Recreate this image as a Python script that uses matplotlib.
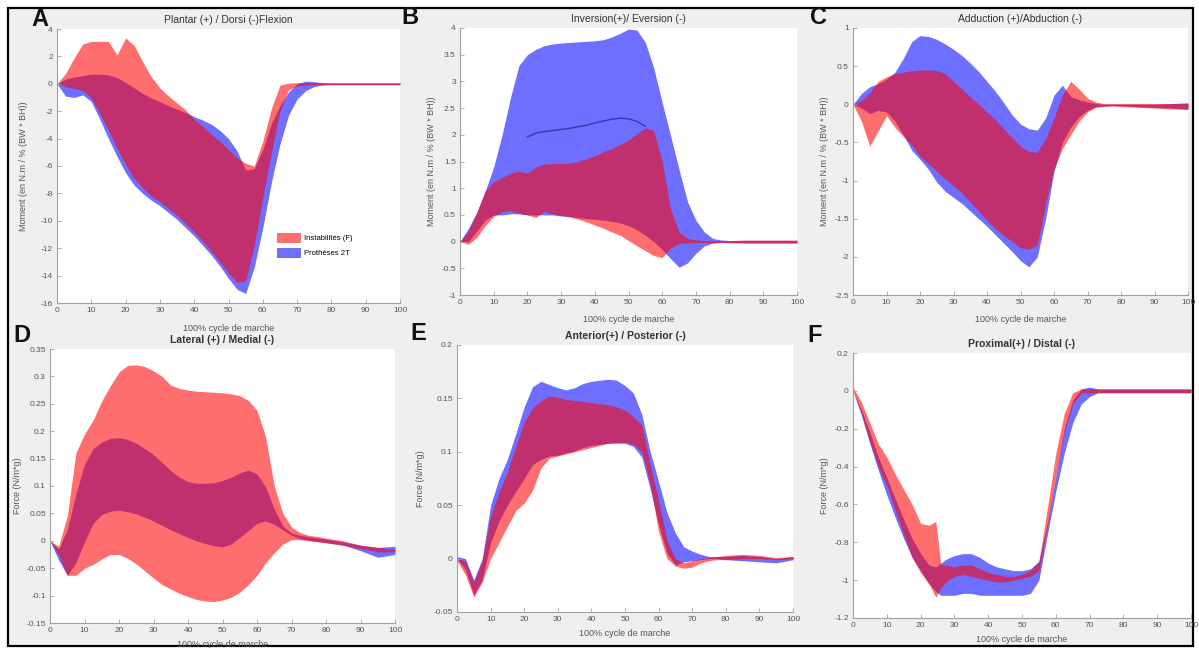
import numpy as np
import matplotlib
matplotlib.use("Agg")
import matplotlib.pyplot as plt
from matplotlib.patches import Rectangle
from matplotlib.ticker import FuncFormatter

plt.rcParams['font.family'] = ['Liberation Sans', 'DejaVu Sans']

# gait cycle (%) sample points
X = [0, 2.5, 5, 7.5, 10, 12.5, 15, 17.5, 20, 22.5, 25, 27.5, 30, 32.5, 35, 37.5, 40,
     42.5, 45, 47.5, 50, 52.5, 55, 57.5, 60, 62.5, 65, 67.5, 70, 72.5, 75, 77.5, 80,
     85, 90, 95, 100]
X_F = [0, 2.5, 5, 7.5, 10, 12.5, 15, 17.5, 20, 22.5, 24.5, 26, 27.5, 30, 32.5, 35,
       37.5, 40, 42.5, 45, 47.5, 50, 52.5, 55, 57.5, 60, 62.5, 65, 67.5, 70, 72.5, 75,
       77.5, 80, 85, 90, 95, 100]

group_labels = ["Instabilités (F)", "Prothèses 2T"]

# A - plantar / dorsi flexion moment
a_red_hi = [0, 0.75, 1.9, 2.9, 3.1, 3.1, 3.1, 2.1, 3.35, 2.8, 1.6, 0.5, -0.3, -0.9, -1.4,
            -1.9, -2.6, -3.1, -3.7, -4.2, -4.8, -5.4, -5.8, -6.0, -4.2, -1.8, -0.1, 0.05,
            0.08, 0.08, 0.08, 0.08, 0.08, 0.08, 0.08, 0.08, 0.08]
a_red_lo = [0, -0.2, -0.35, -0.5, -1.0, -2.2, -3.4, -4.7, -5.9, -6.9, -7.6, -8.2, -8.6,
            -9.1, -9.6, -10.2, -10.8, -11.5, -12.2, -13.0, -13.8, -14.5, -14.4, -11.8,
            -8.3, -5.0, -2.0, -0.45, -0.15, -0.1, -0.08, -0.08, -0.08, -0.08, -0.08,
            -0.08, -0.08]
a_blue_hi = [0, 0.35, 0.5, 0.6, 0.7, 0.7, 0.65, 0.45, 0.1, -0.3, -0.7, -1.05, -1.3, -1.6,
             -1.85, -2.1, -2.4, -2.65, -2.95, -3.4, -4.0, -4.9, -6.3, -6.2, -4.8, -2.9,
             -1.6, -0.6, 0.0, 0.2, 0.15, 0.08, 0.05, 0.05, 0.05, 0.05, 0.05]
a_blue_lo = [0, -0.9, -1.0, -0.8, -1.3, -2.6, -4.0, -5.3, -6.5, -7.4, -8.0, -8.5, -8.9,
             -9.4, -9.9, -10.5, -11.1, -11.8, -12.5, -13.3, -14.2, -15.0, -15.3, -13.4,
             -10.5, -7.2, -4.4, -2.3, -1.1, -0.5, -0.2, -0.08, -0.05, -0.05, -0.05,
             -0.05, -0.05]

# B - inversion / eversion moment
b_red_hi = [0, 0.2, 0.55, 0.95, 1.12, 1.2, 1.28, 1.32, 1.28, 1.4, 1.45, 1.46, 1.46, 1.47,
            1.5, 1.55, 1.61, 1.68, 1.74, 1.82, 1.9, 2.02, 2.13, 2.08, 1.5, 0.6, 0.18,
            0.06, 0.03, 0.02, 0.02, 0.02, 0.02, 0.03, 0.03, 0.03, 0.03]
b_red_lo = [0, -0.05, 0.08, 0.3, 0.47, 0.56, 0.58, 0.53, 0.5, 0.45, 0.57, 0.52, 0.49,
            0.46, 0.42, 0.37, 0.31, 0.25, 0.18, 0.12, 0.02, -0.08, -0.17, -0.26, -0.3,
            -0.12, -0.03, -0.02, -0.02, -0.02, -0.02, -0.02, -0.02, -0.03, -0.03, -0.03,
            -0.03]
b_blue_hi = [0, 0.25, 0.55, 0.95, 1.4, 2.0, 2.7, 3.3, 3.5, 3.6, 3.67, 3.7, 3.72, 3.73,
             3.74, 3.75, 3.76, 3.78, 3.83, 3.9, 3.98, 3.96, 3.73, 3.25, 2.6, 1.98, 1.35,
             0.75, 0.4, 0.18, 0.06, 0.03, 0.02, 0.02, 0.02, 0.02, 0.02]
b_blue_lo = [0, 0.0, 0.2, 0.4, 0.5, 0.5, 0.52, 0.52, 0.5, 0.5, 0.5, 0.5, 0.48, 0.47,
             0.45, 0.43, 0.42, 0.4, 0.38, 0.35, 0.3, 0.22, 0.12, 0.0, -0.15, -0.32, -0.48,
             -0.4, -0.22, -0.08, -0.03, -0.01, -0.02, -0.02, -0.02, -0.02, -0.02]
b_blue_mean_x = [20, 22.5, 25, 27.5, 30, 32.5, 35, 37.5, 40, 42.5, 45, 47.5, 50, 52.5, 55]
b_blue_mean = [1.96, 2.03, 2.06, 2.08, 2.1, 2.12, 2.15, 2.18, 2.22, 2.26, 2.29, 2.31,
               2.3, 2.25, 2.16]

# C - adduction / abduction moment
c_red_hi = [0, 0.05, 0.15, 0.3, 0.36, 0.4, 0.42, 0.44, 0.45, 0.45, 0.44, 0.4, 0.3, 0.2,
            0.1, 0.0, -0.1, -0.2, -0.32, -0.44, -0.55, -0.62, -0.63, -0.45, -0.18, 0.12,
            0.3, 0.2, 0.08, 0.03, 0.01, 0.01, 0.01, 0.01, 0.01, 0.01, 0.01]
c_red_lo = [0, -0.22, -0.55, -0.35, -0.15, -0.3, -0.42, -0.53, -0.68, -0.78, -0.88,
            -0.98, -1.07, -1.16, -1.28, -1.4, -1.52, -1.63, -1.72, -1.8, -1.88, -1.9,
            -1.85, -1.3, -0.85, -0.58, -0.4, -0.22, -0.1, -0.04, -0.03, -0.02, -0.03,
            -0.04, -0.05, -0.06, -0.07]
c_blue_hi = [0, 0.14, 0.23, 0.27, 0.33, 0.42, 0.6, 0.82, 0.9, 0.89, 0.85, 0.79, 0.72,
             0.64, 0.54, 0.43, 0.3, 0.17, 0.02, -0.14, -0.26, -0.32, -0.34, -0.18, 0.12,
             0.25, 0.1, 0.06, 0.03, 0.01, 0.0, 0.0, 0.0, 0.0, 0.0, 0.01, 0.02]
c_blue_lo = [0, -0.05, -0.12, -0.08, -0.1, -0.22, -0.4, -0.6, -0.72, -0.85, -1.02, -1.14,
             -1.22, -1.3, -1.4, -1.5, -1.6, -1.71, -1.82, -1.93, -2.05, -2.13, -2.0,
             -1.5, -0.88, -0.5, -0.3, -0.16, -0.08, -0.03, -0.02, -0.02, -0.02, -0.03,
             -0.04, -0.05, -0.06]

# D - lateral / medial force
d_red_hi = [0.0, -0.01, 0.045, 0.16, 0.195, 0.22, 0.255, 0.283, 0.308, 0.32, 0.321,
            0.318, 0.31, 0.3, 0.284, 0.278, 0.275, 0.273, 0.272, 0.271, 0.27, 0.268,
            0.265, 0.256, 0.238, 0.19, 0.1, 0.05, 0.025, 0.015, 0.01, 0.008, 0.005, 0.0,
            -0.008, -0.012, -0.016]
d_red_lo = [0.0, -0.025, -0.063, -0.063, -0.05, -0.043, -0.033, -0.025, -0.025, -0.032,
            -0.042, -0.055, -0.068, -0.08, -0.088, -0.096, -0.102, -0.107, -0.11, -0.111,
            -0.108, -0.103, -0.094, -0.08, -0.063, -0.04, -0.022, -0.006, 0.002, 0.002,
            0.0, -0.002, -0.004, -0.008, -0.014, -0.02, -0.02]
d_blue_hi = [0.0, -0.015, 0.02, 0.085, 0.14, 0.168, 0.18, 0.187, 0.188, 0.185, 0.178,
             0.168, 0.157, 0.143, 0.128, 0.116, 0.108, 0.105, 0.105, 0.106, 0.11, 0.116,
             0.124, 0.129, 0.122, 0.098, 0.058, 0.027, 0.014, 0.01, 0.007, 0.005, 0.003,
             -0.002, -0.008, -0.012, -0.01]
d_blue_lo = [0.0, -0.035, -0.063, -0.04, -0.002, 0.032, 0.048, 0.054, 0.056, 0.053,
             0.049, 0.043, 0.036, 0.028, 0.02, 0.013, 0.006, 0.0, -0.005, -0.009, -0.011,
             -0.006, 0.006, 0.019, 0.032, 0.036, 0.03, 0.02, 0.01, 0.004, 0.001, -0.001,
             -0.003, -0.008, -0.018, -0.03, -0.025]

# E - anterior / posterior force
e_red_hi = [0.0, -0.002, -0.022, -0.002, 0.04, 0.062, 0.081, 0.105, 0.128, 0.141, 0.148,
            0.152, 0.151, 0.149, 0.148, 0.147, 0.146, 0.145, 0.144, 0.142, 0.139, 0.133,
            0.125, 0.088, 0.054, 0.017, 0.0, -0.004, -0.002, 0.0, 0.001, 0.002, 0.003,
            0.004, 0.003, 0.001, 0.002]
e_red_lo = [-0.002, -0.015, -0.036, -0.022, 0.0, 0.015, 0.03, 0.045, 0.052, 0.064, 0.085,
            0.094, 0.096, 0.098, 0.1, 0.102, 0.104, 0.106, 0.108, 0.109, 0.109, 0.107,
            0.1, 0.07, 0.025, 0.0, -0.007, -0.009, -0.008, -0.004, -0.002, -0.001, -0.001,
            0.0, 0.0, -0.001, 0.0]
e_blue_hi = [0.002, 0.0, -0.02, 0.0, 0.05, 0.075, 0.093, 0.117, 0.142, 0.161, 0.166,
             0.163, 0.16, 0.158, 0.16, 0.164, 0.166, 0.167, 0.168, 0.167, 0.162, 0.155,
             0.135, 0.1, 0.072, 0.043, 0.024, 0.011, 0.007, 0.004, 0.002, 0.002, 0.002,
             0.003, 0.002, 0.0, 0.002]
e_blue_lo = [0.0, -0.01, -0.034, -0.02, 0.015, 0.035, 0.05, 0.063, 0.075, 0.088, 0.093,
             0.096, 0.097, 0.099, 0.101, 0.104, 0.106, 0.107, 0.108, 0.108, 0.108, 0.105,
             0.095, 0.065, 0.032, 0.005, -0.006, -0.003, -0.002, -0.001, 0.0, 0.0, -0.001,
             -0.002, -0.003, -0.004, -0.001]

# F - proximal / distal force (on X_F)
f_red_hi = [0.02, -0.06, -0.17, -0.28, -0.35, -0.44, -0.52, -0.6, -0.7, -0.71, -0.69,
            -0.92, -0.92, -0.93, -0.92, -0.92, -0.94, -0.96, -0.97, -0.98, -0.98, -0.97,
            -0.95, -0.9, -0.62, -0.33, -0.12, -0.01, 0.01, 0.01, 0.01, 0.01, 0.01, 0.01,
            0.01, 0.01, 0.01, 0.01]
f_red_lo = [0.0, -0.12, -0.27, -0.4, -0.5, -0.63, -0.76, -0.88, -0.96, -1.02, -1.09,
            -1.04, -1.01, -0.98, -0.97, -0.98, -0.99, -1.0, -1.01, -1.01, -1.0, -0.99,
            -0.98, -0.95, -0.72, -0.45, -0.22, -0.07, -0.01, -0.01, -0.01, -0.01, -0.01,
            -0.01, -0.01, -0.01, -0.01, -0.01]
f_blue_hi = [0.0, -0.1, -0.22, -0.35, -0.46, -0.57, -0.68, -0.78, -0.86, -0.92, -0.93,
             -0.91, -0.89, -0.87, -0.86, -0.86, -0.88, -0.91, -0.93, -0.94, -0.95, -0.95,
             -0.94, -0.9, -0.7, -0.45, -0.2, -0.05, 0.01, 0.02, 0.01, 0.01, 0.01, 0.01,
             0.01, 0.01, 0.01, 0.01]
f_blue_lo = [0.0, -0.13, -0.28, -0.42, -0.55, -0.67, -0.78, -0.88, -0.95, -1.02, -1.06,
             -1.08, -1.08, -1.08, -1.07, -1.07, -1.08, -1.08, -1.08, -1.08, -1.08, -1.08,
             -1.07, -1.0, -0.76, -0.53, -0.33, -0.17, -0.07, -0.03, -0.01, -0.01, -0.01,
             -0.01, -0.01, -0.01, -0.01, -0.01]

RED = (1.0, 0.0, 0.0)
BLUE = (0.0, 0.0, 1.0)
ALPHA = 0.57

fig = plt.figure(figsize=(11.99, 6.48), dpi=100)
fig.patch.set_facecolor('white')
W, H = 1199.0, 648.0

# grey panel with black frame
fig.add_artist(Rectangle((8 / W, 2 / H), 1185 / W, 638 / H, transform=fig.transFigure,
                         facecolor='#efefef', edgecolor='black', lw=1.6, zorder=-5))


def make_axes(x0, x1, y0, y1):
    # pixel box (top-left origin) -> figure fraction
    return fig.add_axes([x0 / W, 1 - y1 / H, (x1 - x0) / W, (y1 - y0) / H])


def tick_fmt(v, pos):
    return '%g' % (round(v, 4) + 0.0)


def style(ax, yticks, title, ylabel, bold, ypad=4, xpad=4):
    ax.set_facecolor('white')
    ax.set_xlim(0, 100)
    ax.set_xticks(np.arange(0, 101, 10))
    ax.set_ylim(yticks[0], yticks[-1])
    ax.set_yticks(yticks)
    ax.yaxis.set_major_formatter(FuncFormatter(tick_fmt))
    for s in ('top', 'right'):
        ax.spines[s].set_visible(False)
    for s in ('left', 'bottom'):
        ax.spines[s].set_color('#a0a0a0')
        ax.spines[s].set_linewidth(0.8)
    ax.tick_params(direction='in', length=3, width=0.6, color='#a0a0a0',
                   labelsize=6, labelcolor='#555555', pad=3)
    ax.set_title(title, fontsize=7.5, color='#333333', pad=4,
                 fontweight='bold' if bold else 'normal')
    ax.set_xlabel('100% cycle de marche', fontsize=6.5, color='#555555', labelpad=xpad)
    ax.set_ylabel(ylabel, fontsize=6.5, color='#555555', labelpad=ypad)


def bands(ax, x, blo, bhi, rlo, rhi):
    hb = ax.fill_between(x, blo, bhi, color=BLUE, alpha=ALPHA, lw=0,
                         label=group_labels[1])
    hr = ax.fill_between(x, rlo, rhi, color=RED, alpha=ALPHA, lw=0,
                         label=group_labels[0])
    return hr, hb


moment_label = 'Moment (en N.m / % (BW * BH))'
force_label = 'Force (N/m*g)'

axA = make_axes(57, 400, 29, 303)
hr, hb = bands(axA, X, a_blue_lo, a_blue_hi, a_red_lo, a_red_hi)
style(axA, np.arange(-16, 4.1, 2), 'Plantar (+) / Dorsi (-)Flexion', moment_label, False,
      ypad=9, xpad=7)
axA.legend(handles=[hr, hb], loc='lower left', bbox_to_anchor=(0.62, 0.14),
           frameon=False, fontsize=5.5, handlelength=3.2, handleheight=1.6,
           labelspacing=0.7, handletextpad=0.4)

axB = make_axes(460, 797, 28, 295)
bands(axB, X, b_blue_lo, b_blue_hi, b_red_lo, b_red_hi)
axB.plot(b_blue_mean_x, b_blue_mean, color='#2a2a9a', lw=1.0, alpha=0.8)
style(axB, np.arange(-1, 4.01, 0.5), 'Inversion(+)/ Eversion (-)', moment_label, False,
      xpad=6)

axC = make_axes(853, 1188, 28, 295)
bands(axC, X, c_blue_lo, c_blue_hi, c_red_lo, c_red_hi)
style(axC, np.arange(-2.5, 1.01, 0.5), 'Adduction (+)/Abduction (-)', moment_label, False,
      xpad=6)

axD = make_axes(50, 395, 349, 623)
bands(axD, X, d_blue_lo, d_blue_hi, d_red_lo, d_red_hi)
style(axD, np.arange(-0.15, 0.351, 0.05), 'Lateral (+) / Medial (-)', force_label, True,
      ypad=3)

axE = make_axes(457, 793, 345, 612)
bands(axE, X, e_blue_lo, e_blue_hi, e_red_lo, e_red_hi)
style(axE, np.arange(-0.05, 0.201, 0.05), 'Anterior(+) / Posterior (-)', force_label, True,
      ypad=6)

axF = make_axes(853, 1191, 353, 618)
bands(axF, X_F, f_blue_lo, f_blue_hi, f_red_lo, f_red_hi)
style(axF, np.arange(-1.2, 0.201, 0.2), 'Proximal(+) / Distal (-)', force_label, True)

# panel letters
for letter, (px, py) in zip('ABCDEF', [(40, 20), (410, 18), (818, 18),
                                       (22, 336), (418, 334), (815, 336)]):
    fig.text(px / W, 1 - py / H, letter, fontsize=17, fontweight='bold', ha='center',
             va='center', color='#111111')

fig.savefig('out.png', dpi=100, facecolor=fig.get_facecolor())
